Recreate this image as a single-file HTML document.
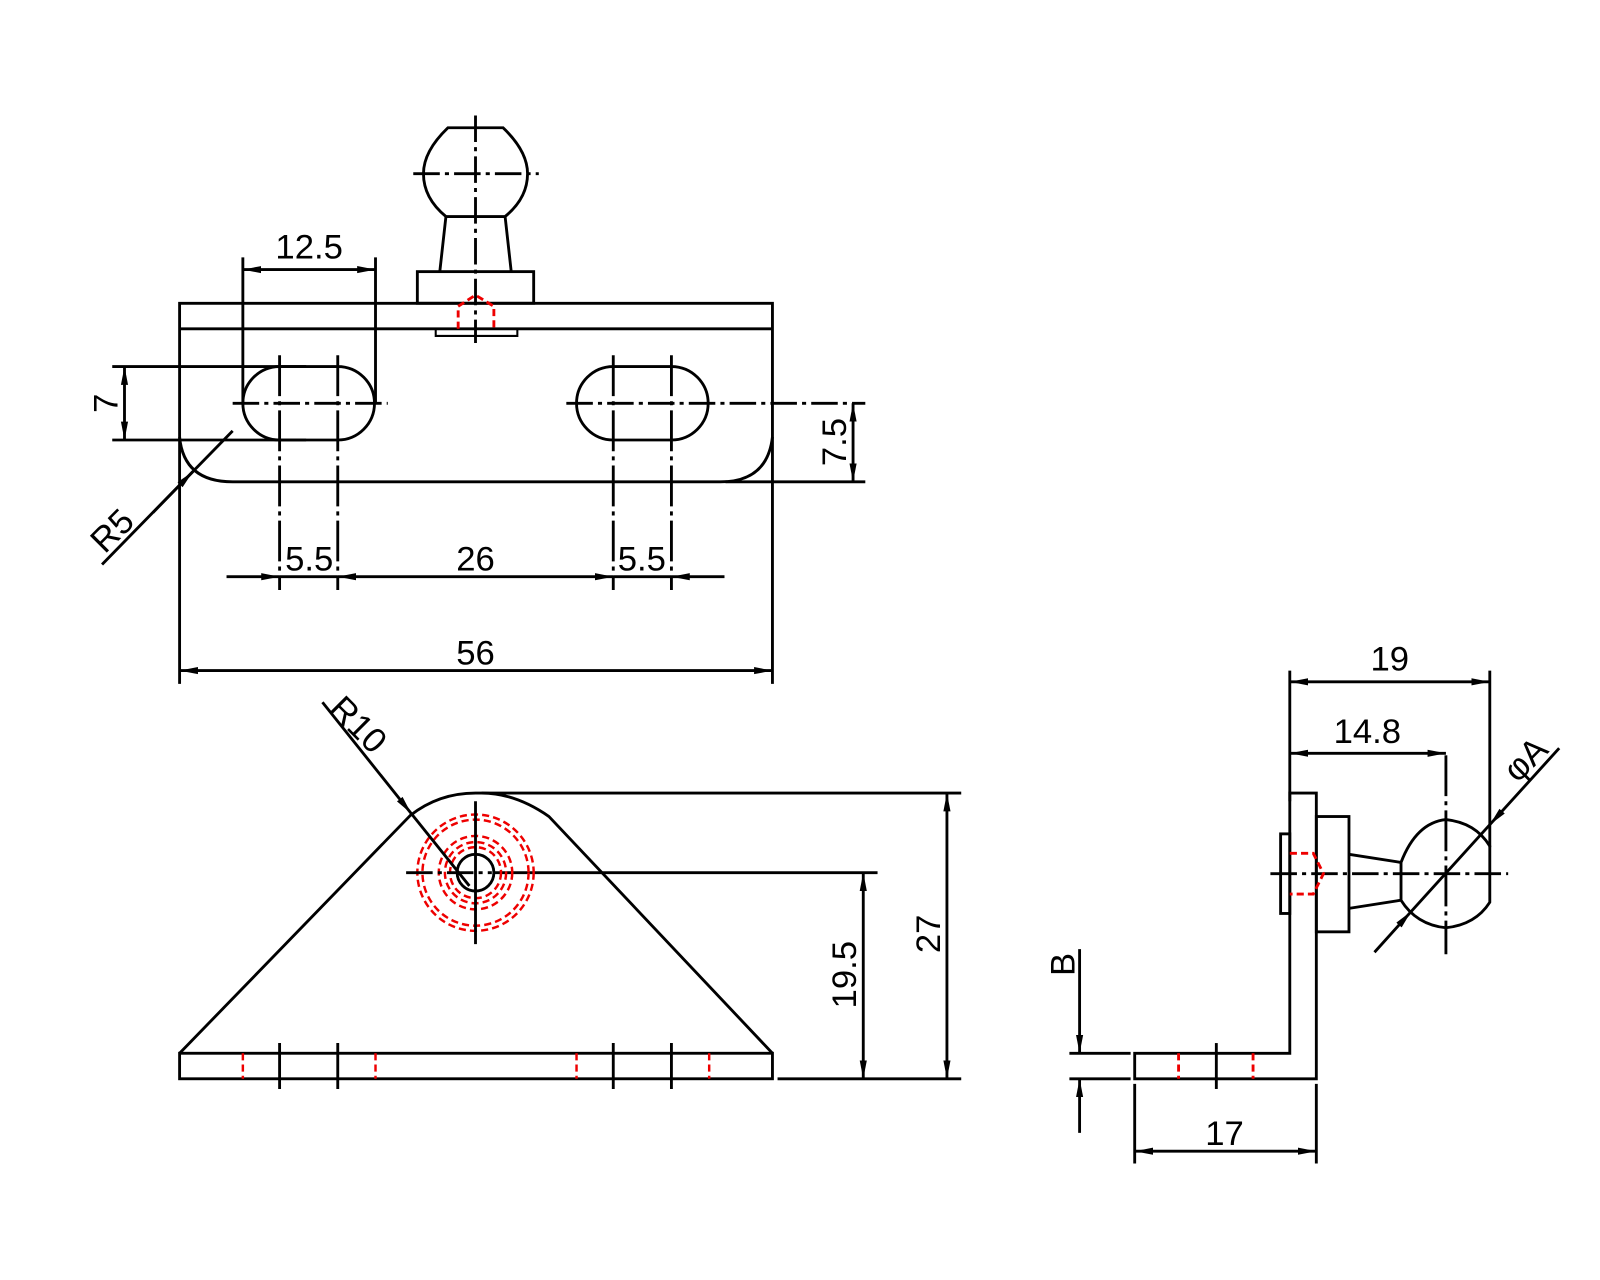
<!DOCTYPE html>
<html><head><meta charset="utf-8"><style>html,body{margin:0;padding:0;background:#fff;}svg{display:block}</style></head><body>
<svg width="1600" height="1280" viewBox="0 0 1568 1254" xmlns="http://www.w3.org/2000/svg">
<defs>
<marker id="a" viewBox="0 0 18 8" refX="18" refY="4" markerWidth="18" markerHeight="8" markerUnits="userSpaceOnUse" orient="auto-start-reverse"><path d="M0,0.5 L18,4 L0,7.5 Z" fill="#000"/></marker>
</defs>
<g fill="none" stroke="#000" stroke-width="2.8" font-family="Liberation Sans, sans-serif">
<!-- TOP VIEW -->
<path d="M176,670 L176,297 L757,297 L757,670"/>
<path d="M176,322 L757,322"/>
<path d="M176,428 Q180,472 228,472 L706,472 Q752,472 757,428"/>
<path d="M439,125 L493,125 Q517,148 517,170 Q517,194 495,212 L437,212 Q415,194 415,170 Q415,148 439,125 Z"/>
<path d="M437,212 L431,266 M495,212 L501,266"/>
<rect x="409" y="266" width="114" height="31"/>
<path d="M427,322 L427,329 L507,329 L507,322" stroke-width="2"/>
<path d="M449,322 L449,300 L466,289 L484,300 L484,322" stroke="#e00" stroke-dasharray="7,4"/>
<path d="M466,113 L466,336" stroke-dasharray="26,5,4,5"/>
<path d="M405,170 L528,170" stroke-dasharray="26,5,4,5"/>
<path d="M274,359 L331,359 A36,36 0 0 1 331,431 L274,431 A36,36 0 0 1 274,359 Z"/>
<path d="M601,359 L658,359 A36,36 0 0 1 658,431 L601,431 A36,36 0 0 1 601,359 Z"/>
<path d="M274,348 L274,578 M331,348 L331,578 M601,348 L601,578 M658,348 L658,578" stroke-dasharray="40,5,4,5"/>
<path d="M228,395 L380,395 M555,395 L848,395" stroke-dasharray="26,5,4,5"/>
<path d="M238,252 L238,395 M368,252 L368,395"/>
<path d="M238,264 L368,264" marker-start="url(#a)" marker-end="url(#a)"/>
<path d="M110,359 L300,359 M110,431 L300,431 M711,472 L848,472"/>
<path d="M122,359 L122,431" marker-start="url(#a)" marker-end="url(#a)"/>
<path d="M836,395 L836,472" marker-start="url(#a)" marker-end="url(#a)"/>
<path d="M100,553 L228,422"/>
<path d="M150,502 L189,462" marker-end="url(#a)"/>
<path d="M222,565 L274,565" marker-end="url(#a)"/>
<path d="M331,565 L601,565" marker-start="url(#a)" marker-end="url(#a)"/>
<path d="M710,565 L658,565" marker-end="url(#a)"/>
<path d="M274,565 L331,565 M601,565 L658,565"/>
<path d="M176,657 L757,657" marker-start="url(#a)" marker-end="url(#a)"/>
<!-- FRONT VIEW -->
<rect x="176" y="1032" width="581" height="25"/>
<path d="M176,1032 L402,799 Q430,777 466,777 L472,777 Q505,777 538,800 L757,1032"/>
<path d="M472,777 L942,777 M485,855 L860,855 M762,1057 L942,1057"/>
<circle cx="466" cy="855" r="18"/>
<g stroke="#e00" stroke-width="2.4" stroke-dasharray="7,4">
<circle cx="466" cy="855" r="25"/><circle cx="466" cy="855" r="30"/><circle cx="466" cy="855" r="36"/>
<circle cx="466" cy="855" r="52"/><circle cx="466" cy="855" r="57"/>
<path d="M238,1032 L238,1057 M368,1032 L368,1057 M565,1032 L565,1057 M695,1032 L695,1057"/>
</g>
<path d="M398,855 L482,855" stroke-dasharray="26,5,4,5"/>
<path d="M466,785 L466,925"/>
<path d="M274,1022 L274,1067 M331,1022 L331,1067 M601,1022 L601,1067 M658,1022 L658,1067"/>
<path d="M846,855 L846,1057" marker-start="url(#a)" marker-end="url(#a)"/>
<path d="M928,777 L928,1057" marker-start="url(#a)" marker-end="url(#a)"/>
<path d="M316,688 L403,797" marker-end="url(#a)"/>
<path d="M403,797 L460,868"/>
<!-- SIDE VIEW -->
<path d="M1112,1032 L1264,1032 L1264,777 L1290,777 L1290,1057 L1112,1057 Z"/>
<rect x="1255" y="817" width="9" height="78"/>
<rect x="1290" y="800" width="32" height="113"/>
<path d="M1322,837 L1373,845 M1322,890 L1373,882"/>
<path d="M1373,845 Q1388,806 1417,803 Q1446,806 1460,829 L1460,884 Q1446,906 1417,909 Q1388,906 1373,882 Z"/>
<path d="M1245,856 L1478,856" stroke-dasharray="26,5,4,5"/>
<path d="M1417,740 L1417,935" stroke-dasharray="40,5,4,5"/>
<path d="M1264,836 L1287,836 L1297,856 L1287,876 L1264,876" stroke="#e00" stroke-dasharray="7,4"/>
<path d="M1155,1032 L1155,1057 M1228,1032 L1228,1057" stroke="#e00" stroke-dasharray="7,4"/>
<path d="M1192,1022 L1192,1067"/>
<path d="M1264,657 L1264,785 M1460,657 L1460,830"/>
<path d="M1264,668 L1460,668" marker-start="url(#a)" marker-end="url(#a)"/>
<path d="M1264,738 L1417,738" marker-start="url(#a)" marker-end="url(#a)"/>
<path d="M1528,733 L1460,808" marker-end="url(#a)"/>
<path d="M1460,808 L1383,893"/>
<path d="M1347,933 L1383,893" marker-end="url(#a)"/>
<path d="M1048,1032 L1108,1032 M1048,1057 L1108,1057"/>
<path d="M1058,930 L1058,1032" marker-end="url(#a)"/>
<path d="M1058,1110 L1058,1057" marker-end="url(#a)"/>
<path d="M1112,1062 L1112,1140 M1290,1062 L1290,1140"/>
<path d="M1112,1128 L1290,1128" marker-start="url(#a)" marker-end="url(#a)"/>
</g>
<g font-family="Liberation Sans, sans-serif" font-size="34" fill="#000" text-anchor="middle">
<text x="303" y="253">12.5</text>
<text x="303" y="559">5.5</text>
<text x="466" y="559">26</text>
<text x="629" y="559">5.5</text>
<text x="466" y="651">56</text>
<text x="1362" y="657">19</text>
<text x="1340" y="728">14.8</text>
<text x="1200" y="1122">17</text>
<text transform="translate(115,395) rotate(-90)">7</text>
<text transform="translate(829,433) rotate(-90)">7.5</text>
<text transform="translate(839,955) rotate(-90)">19.5</text>
<text transform="translate(921,915) rotate(-90)">27</text>
<text transform="translate(1053,945) rotate(-90)">B</text>
<text transform="translate(118,528) rotate(-45)">R5</text>
<text transform="translate(343,718) rotate(45)">R10</text>
<text transform="translate(1503,752) rotate(-45)">φA</text>
</g>
</svg>
</body></html>
